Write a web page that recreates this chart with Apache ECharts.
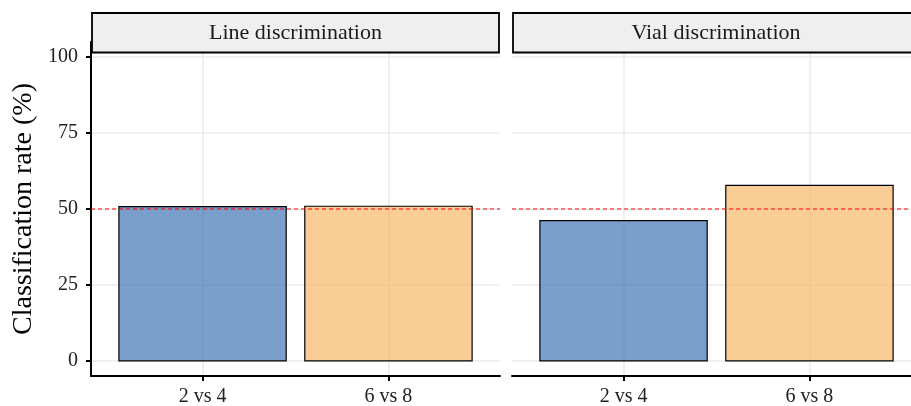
<!DOCTYPE html>
<html>
<head>
<meta charset="utf-8">
<script src="https://cdn.jsdelivr.net/npm/echarts@6/dist/echarts.min.js"></script>
<style>
html,body{margin:0;padding:0;background:#fff;}
#c{width:911px;height:406px;}
</style>
</head>
<body>
<div id="c"></div>
<script>
// ---- data ----
const categories = ['2 vs 4', '6 vs 8'];
const panelTitles = ['Line discrimination', 'Vial discrimination'];
const lineValues = [50.8, 50.9];
const vialValues = [46.2, 57.8];
const yTicks = [0, 25, 50, 75, 100];
const chanceLevel = 50;
const yTitle = 'Classification rate (%)';

// ---- styles ----
const FONT = '"Liberation Serif", "Times New Roman", serif';
const barColors = ['rgba(65,118,179,0.7)', 'rgba(248,184,106,0.7)'];
const BAR_W = 0.9;
const gridColor = '#EBEBEB';

const chart = echarts.init(document.getElementById('c'), null, {renderer: 'canvas'});

function xAxisFor(gi) {
  return {
    type: 'value', gridIndex: gi, min: 0.4, max: 2.6,
    axisLine: {show: true, onZero: false, lineStyle: {color: '#000', width: 2}},
    axisTick: {show: true, customValues: categories.map((c, i) => i + 1), length: 5, lineStyle: {color: '#000', width: 2}},
    axisLabel: {show: true, customValues: categories.map((c, i) => i + 1), margin: 11,
      formatter: v => categories[Math.round(v) - 1] || '',
      fontFamily: FONT, fontSize: 20, color: '#222'},
    splitLine: {show: true, lineStyle: {color: gridColor, width: 1.6}}
  };
}
function yAxisFor(gi, showAxis) {
  return {
    type: 'value', gridIndex: gi, min: -5, max: 105,
    axisLine: {show: showAxis, onZero: false, lineStyle: {color: '#000', width: 2}},
    axisTick: {show: showAxis, customValues: yTicks, length: 5, lineStyle: {color: '#000', width: 2}},
    axisLabel: {show: showAxis, customValues: yTicks, margin: 13, fontFamily: FONT, fontSize: 20, color: '#222'},
    splitLine: {show: true, lineStyle: {color: gridColor, width: 1.6}},
    name: showAxis ? yTitle : '',
    nameLocation: 'middle', nameGap: 53,
    nameTextStyle: {fontFamily: FONT, fontSize: 28, color: '#000'}
  };
}
function barSeries(gi, values) {
  return {
    type: 'custom', xAxisIndex: gi, yAxisIndex: gi,
    data: values.map((v, i) => [i + 1, v, i]),
    renderItem: function (params, api) {
      const x = api.value(0), v = api.value(1), k = api.value(2);
      const p0 = api.coord([x - BAR_W / 2, v]);
      const p1 = api.coord([x + BAR_W / 2, 0]);
      return {
        type: 'rect',
        shape: {x: p0[0], y: p0[1], width: p1[0] - p0[0], height: p1[1] - p0[1]},
        style: {fill: barColors[k], stroke: '#000', lineWidth: 1.2}
      };
    },
    z: 3
  };
}
function refLineSeries(gi) {
  return {
    type: 'custom', xAxisIndex: gi, yAxisIndex: gi,
    data: [[chanceLevel]],
    encode: {y: 0},
    renderItem: function (params, api) {
      const cs = params.coordSys;
      const y = api.coord([1, api.value(0)])[1];
      return {
        type: 'line',
        shape: {x1: cs.x, y1: y, x2: cs.x + cs.width, y2: y},
        style: {stroke: '#FF0000', lineWidth: 1.2, lineDash: [4, 3]}
      };
    },
    silent: true,
    z: 4
  };
}

const strips = [{x: 92, w: 407}, {x: 513, w: 420}];
const graphics = [];
strips.forEach((s, i) => {
  graphics.push({
    type: 'rect', z: 100,
    shape: {x: s.x, y: 13, width: s.w, height: 39.5},
    style: {fill: '#EFEFEF', stroke: '#000', lineWidth: 1.8}
  });
});

chart.setOption({
  animation: false,
  backgroundColor: '#fff',
  grid: [
    {left: 91, top: 42, width: 409, height: 334, outerBoundsMode: 'none'},
    {left: 512, top: 42, width: 409, height: 334, outerBoundsMode: 'none'}
  ],
  xAxis: [xAxisFor(0), xAxisFor(1)],
  yAxis: [yAxisFor(0, true), yAxisFor(1, false)],
  series: [barSeries(0, lineValues), barSeries(1, vialValues), refLineSeries(0), refLineSeries(1)],
  graphic: graphics.concat(panelTitles.map((t, i) => ({
    type: 'text', z: 101,
    style: {text: t, x: i === 0 ? 295.5 : 716, y: 33, align: 'center', verticalAlign: 'middle',
      font: '22px ' + FONT, fill: '#1a1a1a'}
  })))
});
</script>
</body>
</html>
